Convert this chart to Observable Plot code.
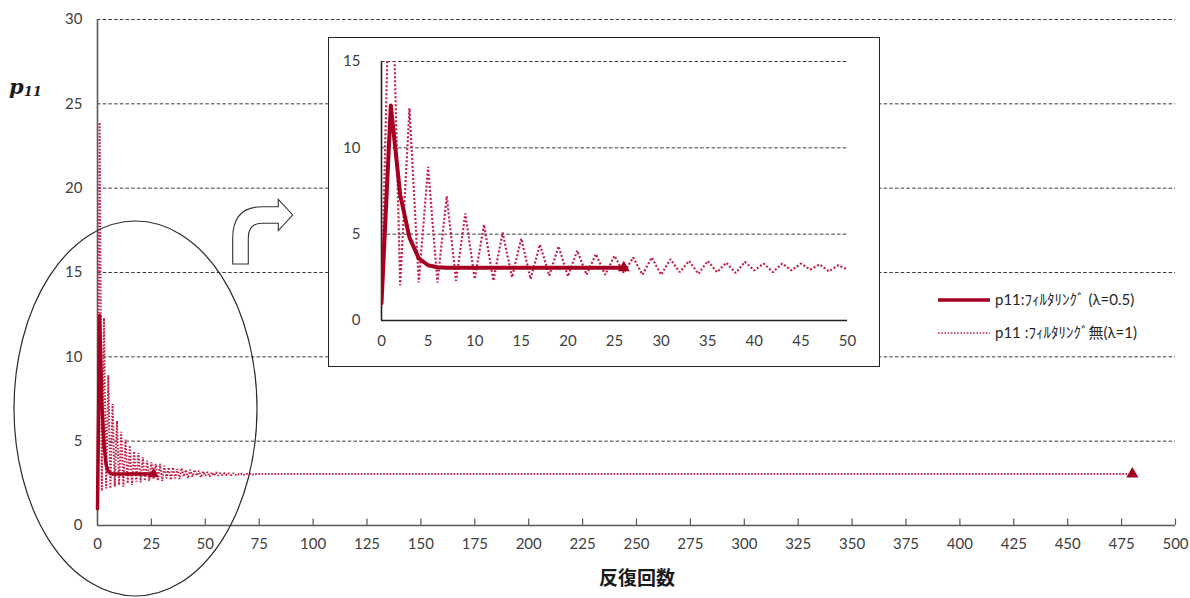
<!DOCTYPE html>
<html><head><meta charset="utf-8">
<script src="https://cdn.jsdelivr.net/npm/d3@7"></script>
<script src="https://cdn.jsdelivr.net/npm/@observablehq/plot@0.6"></script>
<style>
body{margin:0;background:#fff;}
#wrap{position:relative;width:1190px;height:598px;overflow:hidden;background:#fff;}
#wrap svg{position:absolute;}
</style></head><body><div id="wrap"></div>
<script>
// ---- data ----
const iterFiltered = [0,1,2,3,4,5,6,7,8,9,10,11,12,13,14,15,16,17,18,19,20,21,22,23,24,25,26];
const p11Filtered = [1.0,12.45,7.3,4.8,3.6,3.2,3.08,3.05,3.05,3.05,3.05,3.05,3.05,3.05,3.05,3.05,3.05,3.05,3.05,3.05,3.05,3.05,3.05,3.05,3.05,3.05,3.05];
const iterRaw = [0,1,2,3,4,5,6,7,8,9,10,11,12,13,14,15,16,17,18,19,20,21,22,23,24,25,26,27,28,29,30,31,32,33,34,35,36,37,38,39,40,41,42,43,44,45,46,47,48,49,50,51,52,53,54,55,56,57,58,59,60,61,62,63,64,65,66,67,68,69,70,71,72,73,74,75,480];
const p11Raw = [1.0,23.9,2.05,12.3,2.2,8.9,2.2,7.2,2.3,6.2,2.4,5.55,2.3,5.1,2.5,4.75,2.4,4.4,2.6,4.3,2.55,4.05,2.65,3.85,2.65,3.75,2.75,3.65,2.65,3.65,2.65,3.55,2.8,3.45,2.7,3.45,2.8,3.35,2.75,3.4,2.9,3.3,2.8,3.3,2.9,3.3,2.95,3.25,2.85,3.2,2.95,3.18,2.9,3.15,2.95,3.15,2.95,3.12,2.97,3.12,2.98,3.1,2.98,3.1,3.0,3.08,3.0,3.08,3.01,3.07,3.02,3.07,3.02,3.06,3.03,3.06,3.05];
const xTicksMain = [0,25,50,75,100,125,150,175,200,225,250,275,300,325,350,375,400,425,450,475,500];
const yTicksMain = [0,5,10,15,20,25,30];
const xTicksInset = [0,5,10,15,20,25,30,35,40,45,50];
const yTicksInset = [0,5,10,15];
const seriesLabels = ["p11:ﾌｨﾙﾀﾘﾝｸﾞ (λ=0.5)", "p11 :ﾌｨﾙﾀﾘﾝｸﾞ無(λ=1)"];
const xTitle = "反復回数";

// ---- tables ----
const filtered = iterFiltered.map((x, i) => ({x, y: p11Filtered[i]}));
const raw = iterRaw.map((x, i) => ({x, y: p11Raw[i]}));

const cSolid = "#A50021";
const cDot = "#C4204A";
const axisCol = "#595959";
const gridCol = "#3a3a3a";

const wrap = document.getElementById("wrap");

// ---- main chart ----
const main = Plot.plot({
  width: 1190, height: 598,
  marginLeft: 97, marginRight: 15, marginTop: 19, marginBottom: 73,
  style: {fontFamily: "Lato, sans-serif", fontSize: "15px", color: "#404040", background: "transparent"},
  x: {domain: [0, 500]},
  y: {domain: [0, 30]},
  marks: [
    Plot.gridY(yTicksMain.filter(d => d > 0), {stroke: gridCol, strokeOpacity: 1, strokeWidth: 1, strokeDasharray: "3.5,2.2"}),
    Plot.axisY(yTicksMain, {tickSize: 0, tickPadding: 15, label: null, fontSize: 15}),
    Plot.axisX(xTicksMain, {tickSize: 0, tickPadding: 13, label: null, fontSize: 15}),
    Plot.ruleX(xTicksMain.slice(1), {y1: 0, y2: 0.38, stroke: axisCol, strokeWidth: 1.2}),
    Plot.ruleY([0], {stroke: axisCol, strokeWidth: 1.6}),
    Plot.ruleX([0], {y1: 0, y2: 30, stroke: axisCol, strokeWidth: 1.6}),
    Plot.line(raw, {x: "x", y: "y", stroke: cDot, strokeWidth: 2, strokeDasharray: "1.6,1.6", strokeLinecap: "butt", strokeLinejoin: "miter"}),
    Plot.line(filtered, {x: "x", y: "y", stroke: cSolid, strokeWidth: 3.5}),
    Plot.dot(raw.slice(-1), {x: "x", y: "y", symbol: "triangle", r: 4.5, fill: cSolid}),
    Plot.dot(filtered.slice(-1), {x: "x", y: "y", symbol: "triangle", r: 4, fill: cSolid})
  ]
});
main.style.left = "0px"; main.style.top = "0px";
wrap.appendChild(main);

const svg = d3.select(main);
// ellipse annotation
svg.append("ellipse").attr("cx", 135.5).attr("cy", 408.5).attr("rx", 121.5).attr("ry", 187.5)
  .attr("fill", "none").attr("stroke", "#2b2b2b").attr("stroke-width", 1.2);
// bent arrow annotation
svg.append("path")
  .attr("d", "M232.7 264 L232.7 238 Q232.7 206.7 262 206.7 L278.3 206.7 L278.3 199.3 L292.7 215 L278.3 230.7 L278.3 223.3 L262 223.3 Q248.3 223.3 248.3 238 L248.3 264 Z")
  .attr("fill", "#fff").attr("stroke", "#333").attr("stroke-width", 1.1);
// y title
const yt = svg.append("text").attr("x", 9).attr("y", 94).attr("text-anchor", "start")
  .attr("font-family", "'DejaVu Serif', serif").attr("font-weight", "bold").attr("font-style", "italic")
  .attr("font-size", 21).attr("fill", "#1a1a1a");
yt.append("tspan").text("p");
yt.append("tspan").attr("font-size", 13).attr("dy", 2).text("11");
// x title
svg.append("text").attr("x", 637).attr("y", 585).attr("text-anchor", "middle")
  .attr("font-family", "'Noto Sans CJK JP', sans-serif").attr("font-weight", "bold")
  .attr("font-size", 19).attr("fill", "#1a1a1a").text(xTitle);
// legend
const lg = svg.append("g").attr("font-family", "Lato, 'Noto Sans CJK JP', sans-serif").attr("font-size", 15)
  .attr("fill", "#262626").attr("text-anchor", "start");
lg.append("line").attr("x1", 938).attr("x2", 990).attr("y1", 300).attr("y2", 300).attr("stroke", cSolid).attr("stroke-width", 3.5);
lg.append("line").attr("x1", 938).attr("x2", 990).attr("y1", 333).attr("y2", 333).attr("stroke", cDot).attr("stroke-width", 1.6).attr("stroke-dasharray", "1.6,1.6");
lg.append("text").attr("x", 995).attr("y", 300).attr("dy", "0.35em").text(seriesLabels[0]);
lg.append("text").attr("x", 995).attr("y", 333).attr("dy", "0.35em").text(seriesLabels[1]);

// ---- inset chart ----
const inset = Plot.plot({
  width: 550, height: 328,
  marginLeft: 52, marginRight: 32, marginTop: 23, marginBottom: 46,
  style: {fontFamily: "Lato, sans-serif", fontSize: "15px", color: "#404040", background: "#fff"},
  x: {domain: [0, 50]},
  y: {domain: [0, 15]},
  marks: [
    Plot.gridY(yTicksInset.filter(d => d > 0), {stroke: gridCol, strokeOpacity: 1, strokeWidth: 1, strokeDasharray: "3.5,2.2"}),
    Plot.axisY(yTicksInset, {tickSize: 0, tickPadding: 21, label: null, fontSize: 15}),
    Plot.axisX(xTicksInset, {tickSize: 0, tickPadding: 15, label: null, fontSize: 15}),
    Plot.ruleY([0], {stroke: "#222", strokeWidth: 1.6}),
    Plot.ruleX([0], {y1: 0, y2: 15, stroke: "#222", strokeWidth: 1.6}),
    Plot.line(raw, {x: "x", y: "y", stroke: cDot, strokeWidth: 2.2, strokeDasharray: "2,2", strokeLinecap: "butt", strokeLinejoin: "miter", clip: true}),
    Plot.line(filtered, {x: "x", y: "y", stroke: cSolid, strokeWidth: 4, clip: true}),
    Plot.dot(filtered.slice(-1), {x: "x", y: "y", symbol: "triangle", r: 4.5, fill: cSolid})
  ]
});
inset.style.left = "328px"; inset.style.top = "37px";
inset.style.border = "1px solid #222";
wrap.appendChild(inset);
</script>
</body></html>
